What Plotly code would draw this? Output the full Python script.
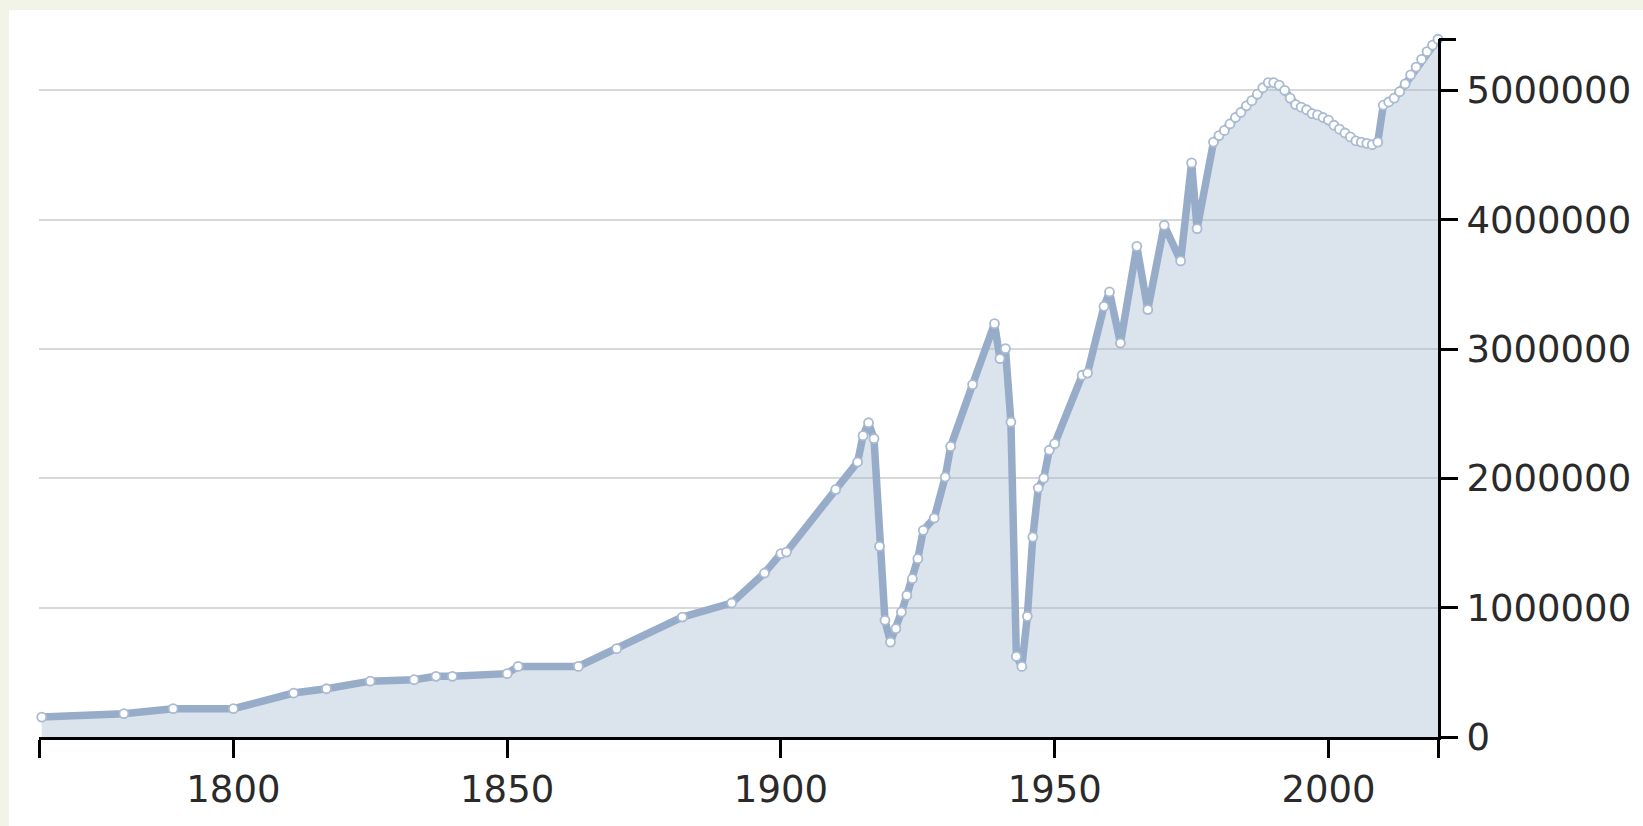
import plotly.graph_objects as go

years = [1765, 1780, 1789, 1800, 1811, 1817, 1825, 1833, 1837, 1840,
         1850, 1852, 1863, 1870, 1882, 1891, 1897, 1900, 1901, 1910,
         1914, 1915, 1916, 1917, 1918, 1919, 1920, 1921, 1922, 1923,
         1924, 1925, 1926, 1928, 1930, 1931, 1935, 1939, 1940, 1941,
         1942, 1943, 1944, 1945, 1946, 1947, 1948, 1949, 1950, 1955,
         1956, 1959, 1960, 1962, 1965, 1967, 1970, 1973, 1975, 1976,
         1979, 1980, 1981, 1982, 1983, 1984, 1985, 1986, 1987, 1988,
         1989, 1990, 1991, 1992, 1993, 1994, 1995, 1996, 1997, 1998,
         1999, 2000, 2001, 2002, 2003, 2004, 2005, 2006, 2007, 2008,
         2009, 2010, 2011, 2012, 2013, 2014, 2015, 2016, 2017, 2018,
         2019, 2020]

values = [154000, 180000, 219000, 219000, 340000, 373000, 432000, 443000, 469000, 469000,
          490000, 546000, 546000, 683000, 927000, 1036000, 1268000, 1418000, 1430000, 1913000,
          2126000, 2330000, 2430000, 2307000, 1474000, 902000, 734000, 838000, 966000, 1095000,
          1224000, 1379000, 1598000, 1693000, 2010000, 2247000, 2725000, 3196000, 2926000, 3003000,
          2435000, 623000, 546000, 933000, 1546000, 1925000, 2002000, 2217000, 2268000, 2797000,
          2814000, 3330000, 3441000, 3046000, 3794000, 3305000, 3957000, 3681000, 4439000, 3931000,
          4600000, 4650000, 4690000, 4740000, 4790000, 4830000, 4880000, 4920000, 4970000, 5020000,
          5060000, 5060000, 5040000, 5000000, 4940000, 4890000, 4870000, 4850000, 4820000, 4810000,
          4790000, 4770000, 4730000, 4700000, 4670000, 4640000, 4610000, 4600000, 4590000, 4580000,
          4600000, 4885000, 4910000, 4940000, 4990000, 5050000, 5120000, 5180000, 5240000, 5300000,
          5350000, 5395000]

x_ticks = [1800, 1850, 1900, 1950, 2000]
x_tick_labels = ["1800", "1850", "1900", "1950", "2000"]
y_ticks = [0, 1000000, 2000000, 3000000, 4000000, 5000000]
y_tick_labels = ["0", "1000000", "2000000", "3000000", "4000000", "5000000"]

X_RANGE = [1764.5, 2020.0]
Y_RANGE = [0, 5397000]

BORDER = "#f1f4e7"

fig = go.Figure()
fig.add_trace(go.Scatter(
    x=years, y=values, mode="lines+markers",
    fill="tozeroy", fillcolor="rgba(165,185,210,0.40)",
    line=dict(color="#97acc8", width=7.5),
    marker=dict(size=9, color="white", line=dict(color="#a9bad1", width=1.8)),
    cliponaxis=False, showlegend=False, hoverinfo="x+y",
))
fig.add_trace(go.Scatter(x=[], y=[], yaxis="y2", showlegend=False))

font = dict(family="DejaVu Sans", size=37, color="#2a2a2a")
W, H = 1643, 826
L, T = 39, 39
R = W - 1438
B = H - 737
PW, PH = W - L - R, H - T - B

fig.update_layout(
    width=W, height=H,
    margin=dict(l=L, r=R, t=T, b=B),
    paper_bgcolor=BORDER, plot_bgcolor="white",
    font=font,
    xaxis=dict(
        range=X_RANGE, showgrid=False, zeroline=False,
        showline=True, linecolor="black", linewidth=3,
        ticks="outside", ticklen=18, tickwidth=2.5, tickcolor="black",
        tickvals=[X_RANGE[0]] + x_ticks + [X_RANGE[1]],
        ticktext=[""] + x_tick_labels + [""],
        tickfont=font,
    ),
    yaxis=dict(
        range=Y_RANGE, side="right", zeroline=False,
        showgrid=True, gridcolor="#d8d8d8", gridwidth=2,
        showline=True, linecolor="black", linewidth=3,
        ticks="outside", ticklen=17, tickwidth=2.5, tickcolor="black",
        tickvals=y_ticks, ticktext=y_tick_labels, tickfont=font,
        ticklabelstandoff=1,
    ),
    yaxis2=dict(
        range=Y_RANGE, overlaying="y", side="right", showgrid=False,
        zeroline=False, showline=False,
        ticks="outside", ticklen=17, tickwidth=2.5, tickcolor="black",
        tickvals=[Y_RANGE[1]], ticktext=[""],
    ),
    shapes=[dict(type="rect", xref="paper", yref="paper",
                 x0=(9 - L) / PW, x1=1.3, y0=-0.3, y1=(H - B - 10) / PH,
                 fillcolor="white", line=dict(width=0), layer="below")],
)

fig.write_html(
    "out.html",
    config={"displayModeBar": False},
    post_script="document.body.style.margin='0';document.body.style.background='" + BORDER + "';",
)
